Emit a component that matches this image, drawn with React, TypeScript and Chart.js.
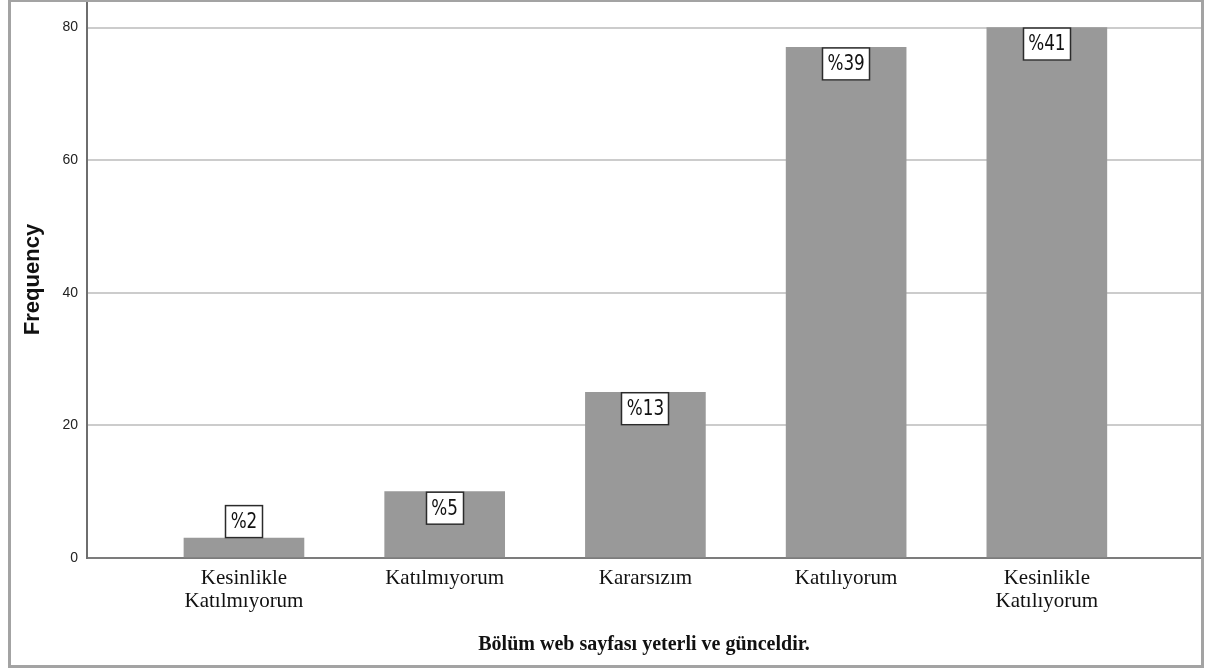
import React, { useEffect, useRef } from "react";
import { Chart, registerables } from "chart.js";

Chart.register(...registerables);

const categories: string[][] = [
  ["Kesinlikle", "Katılmıyorum"],
  ["Katılmıyorum"],
  ["Kararsızım"],
  ["Katılıyorum"],
  ["Kesinlikle", "Katılıyorum"],
];
const frequencies: number[] = [3, 10, 25, 77, 80];
const yTicks: number[] = [0, 20, 40, 60, 80];
const xTitle = "Bölüm web sayfası yeterli ve günceldir.";
const yTitle = "Frequency";

const total = frequencies.reduce((a, b) => a + b, 0);
const percentLabels = frequencies.map((v) => "%" + Math.round((v / total) * 100));

const W = 1208;
const H = 672;

const framePlugin = {
  id: "frame",
  afterDraw(chart: any) {
    const ctx = chart.ctx;
    ctx.save();
    ctx.strokeStyle = "#a3a3a3";
    ctx.lineWidth = 3;
    ctx.strokeRect(9.5, 0.5, 1193, 666);
    ctx.restore();
  },
};

const labelPlugin = {
  id: "pctLabels",
  afterDatasetsDraw(chart: any) {
    const ctx = chart.ctx;
    const meta = chart.getDatasetMeta(0);
    const sx = 0.8;
    const boxH = 33;
    ctx.save();
    ctx.font = "21px 'DejaVu Sans'";
    meta.data.forEach((bar: any, i: number) => {
      const text = percentLabels[i];
      const tw = ctx.measureText(text).width * sx;
      const boxW = Math.round(tw + 11);
      const barH = bar.base - bar.y;
      const top = barH >= boxH ? bar.y : bar.y - boxH;
      const left = Math.round(bar.x - boxW / 2);
      ctx.fillStyle = "#ffffff";
      ctx.fillRect(left, top, boxW, boxH);
      ctx.strokeStyle = "#2b2b2b";
      ctx.lineWidth = 1.5;
      ctx.strokeRect(left + 0.5, top + 0.5, boxW - 1, boxH - 1);
      ctx.fillStyle = "#111111";
      ctx.textAlign = "center";
      ctx.textBaseline = "middle";
      ctx.save();
      ctx.translate(bar.x, top + boxH / 2 + 1);
      ctx.scale(sx, 1);
      ctx.fillText(text, 0, 0);
      ctx.restore();
    });
    ctx.restore();
  },
};

export default function App() {
  const canvasRef = useRef<HTMLCanvasElement | null>(null);

  useEffect(() => {
    const canvas = canvasRef.current;
    if (!canvas) return;
    const chart = new Chart(canvas, {
      type: "bar",
      data: {
        datasets: [
          {
            data: frequencies.map((v, i) => ({ x: i, y: v })),
            backgroundColor: "#999999",
            borderWidth: 0,
            barThickness: 120,
          },
        ],
      },
      options: {
        responsive: false,
        animation: false,
        layout: { padding: { left: 0, right: 7, top: 1, bottom: 0 } },
        plugins: {
          legend: { display: false },
          tooltip: { enabled: false },
        },
        scales: {
          x: {
            type: "linear",
            offset: false,
            min: -0.782,
            max: 4.768,
            grid: { display: false, drawTicks: false, offset: false },
            border: { display: true, color: "#7c7c7c", width: 2 },
            afterBuildTicks(scale: any) {
              scale.ticks = categories.map((_, i) => ({ value: i }));
            },
            afterFit(scale: any) {
              scale.height = H - 558;
              scale.paddingLeft = 0;
              scale.paddingRight = 0;
            },
            ticks: {
              autoSkip: false,
              maxRotation: 0,
              minRotation: 0,
              padding: 9,
              color: "#111111",
              font: { family: "'Liberation Serif', serif", size: 21, lineHeight: 1.1 },
              callback: (value: any) => categories[Math.round(Number(value))] ?? "",
            },
            title: {
              display: true,
              text: xTitle,
              color: "#111111",
              font: { family: "'Liberation Serif', serif", size: 20, weight: "bold", lineHeight: 1.2 },
              padding: { top: 0, bottom: 15 },
            },
          },
          y: {
            type: "linear",
            min: 0,
            max: 84,
            grid: { color: "#cccccc", lineWidth: 2, drawTicks: false },
            border: { display: true, color: "#6e6e6e", width: 2 },
            afterBuildTicks(scale: any) {
              scale.ticks = yTicks.map((v) => ({ value: v }));
            },
            afterFit(scale: any) {
              scale.width = 87;
              scale.paddingTop = 0;
              scale.paddingBottom = 0;
            },
            ticks: {
              padding: 9,
              color: "#222222",
              font: { family: "'Liberation Sans', Arial, sans-serif", size: 14 },
            },
            title: {
              display: true,
              text: yTitle,
              color: "#111111",
              font: { family: "'Liberation Sans', Arial, sans-serif", size: 22, weight: "bold", lineHeight: 1.2 },
              padding: { top: 20, bottom: 0 },
            },
          },
        },
      },
      plugins: [labelPlugin, framePlugin],
    } as any);
    return () => chart.destroy();
  }, []);

  return (
    <div style={{ position: "absolute", left: 0, top: 0, width: W, height: H, background: "#ffffff" }}>
      <canvas ref={canvasRef} width={W} height={H} style={{ display: "block", width: W, height: H }} />
    </div>
  );
}
